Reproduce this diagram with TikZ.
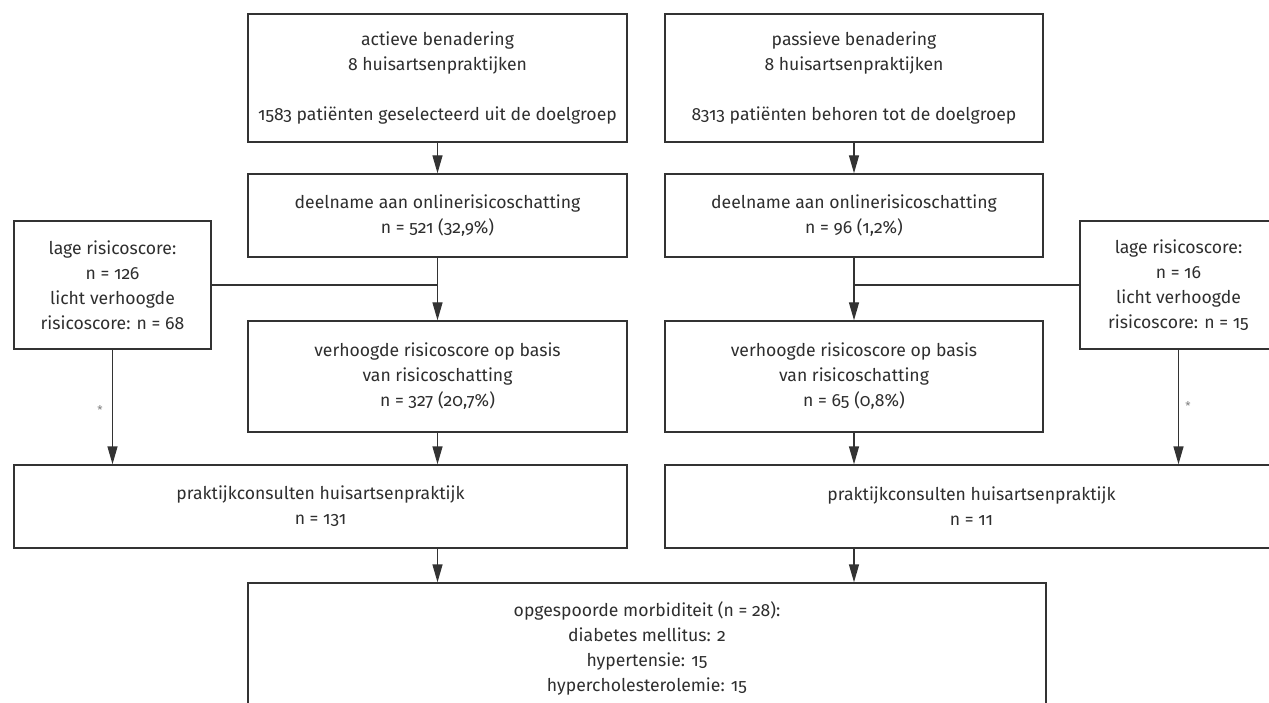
\documentclass[tikz,border=0pt]{standalone}
\usepackage{fontspec}
\setmainfont{Fira Sans}[Numbers=OldStyle]
\usetikzlibrary{arrows.meta}
\definecolor{linegray}{HTML}{333333}
\definecolor{textgray}{HTML}{2E2E2E}
\begin{document}
\begin{tikzpicture}[x=1pt,y=-1pt,
  box/.style={draw=linegray, line width=1.4pt, align=center, inner sep=0pt,
    font=\fontsize{17.6}{25}\selectfont, text=textgray},
  arr/.style={-{Triangle[length=18pt,width=10pt]}, line width=1.4pt, draw=linegray},
  ln/.style={line width=1.4pt, draw=linegray},
  star/.style={font=\fontsize{12}{12}\selectfont, text=gray, inner sep=0pt}]
\useasboundingbox (0,0) rectangle (1269,703);
\clip (0,0) rectangle (1269,703);
% top boxes
\node[box, minimum width=379pt, minimum height=128pt] (A) at (437.5,78)
  {actieve benadering\\8 huisartsenpraktijken\\[25pt]1583 patiënten geselecteerd uit de doelgroep};
\node[box, minimum width=378pt, minimum height=128pt] (B) at (854,78)
  {passieve benadering\\8 huisartsenpraktijken\\[25pt]8313 patiënten behoren tot de doelgroep};
% deelname
\node[box, minimum width=379pt, minimum height=83pt] (C) at (437.5,215.5)
  {deelname aan onlinerisicoschatting\\n = 521 (32,9\%)};
\node[box, minimum width=378pt, minimum height=83pt] (C2) at (854,215.5)
  {deelname aan onlinerisicoschatting\\n = 96 (1,2\%)};
% lage risicoscore
\node[box, minimum width=197pt, minimum height=128pt] (L) at (112.5,285)
  {lage risicoscore:\\n = 126\\licht verhoogde\\risicoscore: n = 68};
\node[box, minimum width=197pt, minimum height=128pt] (R) at (1178.5,285)
  {lage risicoscore:\\n = 16\\licht verhoogde\\risicoscore: n = 15};
% verhoogde
\node[box, minimum width=379pt, minimum height=111pt] (D) at (437.5,376.5)
  {verhoogde risicoscore op basis\\van risicoschatting\\n = 327 (20,7\%)};
\node[box, minimum width=378pt, minimum height=111pt] (D2) at (854,376.5)
  {verhoogde risicoscore op basis\\van risicoschatting\\n = 65 (0,8\%)};
% praktijkconsulten
\node[box, minimum width=613pt, minimum height=83pt] (E) at (320.5,506.5)
  {praktijkconsulten huisartsenpraktijk\\n = 131};
\node[box, minimum width=613pt, minimum height=83pt] (F) at (971.5,506.5)
  {praktijkconsulten huisartsenpraktijk\\n = 11};
% bottom
\node[box, minimum width=798pt, minimum height=130pt] (G) at (647,648)
  {opgespoorde morbiditeit (n = 28):\\diabetes mellitus: 2\\hypertensie: 15\\hypercholesterolemie: 15};
% connectors
\draw[arr] (A.south) -- (C.north);
\draw[arr] (B.south) -- (C2.north);
\draw[arr] (C.south) -- (D.north);
\draw[arr] (C2.south) -- (D2.north);
\draw[ln] (L.east) -- (L.east -| C.south);
\draw[ln] (R.west) -- (R.west -| C2.south);
\draw[arr] (L.south) -- (L.south |- E.north);
\draw[arr] (R.south) -- (R.south |- F.north);
\draw[arr] (D.south) -- (D.south |- E.north);
\draw[arr] (D2.south) -- (D2.south |- F.north);
\draw[arr] (E.south -| C.south) -- (C.south |- G.north);
\draw[arr] (F.south -| C2.south) -- (C2.south |- G.north);
% asterisks
\node[star] (s1) at (100,410) {*};
\node[star] (s2) at (1188,406) {*};
\end{tikzpicture}
\end{document}
